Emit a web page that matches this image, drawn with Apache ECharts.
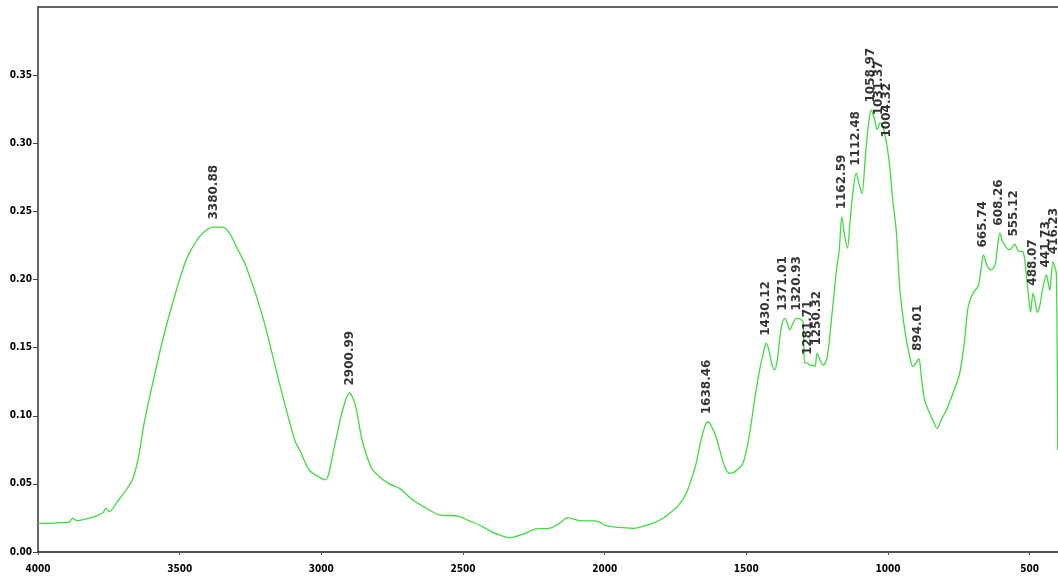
<!DOCTYPE html>
<html>
<head>
<meta charset="utf-8">
<script src="https://cdn.jsdelivr.net/npm/echarts@6/dist/echarts.min.js"></script>
<style>
html,body{margin:0;padding:0;background:#fff;}
#chart{width:1058px;height:583px;}
</style>
</head>
<body>
<div id="chart"></div>
<script>
// Wavenumber (cm-1) and absorbance
const wavenumbers = [4000,3960,3920,3890,3878,3862,3848,3800,3770,3760,3748,3720,3689,3665,3645,3625,3595,3560,3525,3477,3430,3400,3383,3348,3324,3295,3265,3207,3148,3094,3077,3042,3000,2985,2953,2925,2901,2880,2856,2823,2795,2760,2724,2677,2620,2583,2518,2480,2442,2400,2371,2335,2290,2242,2195,2160,2130,2089,2030,1994,1950,1900,1841,1800,1771,1740,1712,1690,1677,1660,1645,1636,1625,1607,1590,1575,1560,1540,1512,1490,1470,1453,1440,1430,1420,1410,1400,1390,1378,1365,1355,1347,1335,1323,1310,1300,1294,1285,1276,1265,1258,1250,1240,1229,1217,1207,1200,1190,1182,1172,1163,1153,1143,1135,1125,1112,1102,1092,1080,1070,1059,1048,1038,1028,1017,1010,1004,995,983,971,959,947,935,925,912,900,891,882,871,853,840,827,810,794,770,747,730,717,700,682,672,663,650,636,622,613,605,596,588,575,564,553,540,523,515,506,497,488,480,473,465,455,441,435,429,418,410,406,403,401];
const absorbance = [0.021,0.021,0.0215,0.022,0.0247,0.023,0.0235,0.026,0.029,0.032,0.0296,0.037,0.0455,0.054,0.070,0.095,0.124,0.1556,0.1826,0.2143,0.2314,0.2370,0.2385,0.2385,0.234,0.222,0.2094,0.1727,0.124,0.082,0.075,0.060,0.054,0.053,0.0785,0.104,0.1167,0.108,0.082,0.0617,0.0553,0.050,0.0467,0.0382,0.031,0.0272,0.0264,0.023,0.0198,0.015,0.0125,0.0105,0.013,0.0169,0.0174,0.021,0.0252,0.023,0.0228,0.0193,0.018,0.0174,0.0203,0.024,0.0284,0.034,0.0431,0.056,0.0651,0.082,0.093,0.0956,0.093,0.0846,0.072,0.062,0.0578,0.059,0.0651,0.085,0.113,0.1336,0.146,0.1532,0.148,0.138,0.1336,0.142,0.163,0.1715,0.168,0.163,0.168,0.1715,0.171,0.169,0.1385,0.139,0.137,0.137,0.136,0.146,0.141,0.137,0.141,0.155,0.170,0.190,0.207,0.222,0.246,0.232,0.223,0.240,0.262,0.278,0.270,0.263,0.290,0.312,0.3244,0.318,0.310,0.315,0.312,0.305,0.2987,0.285,0.258,0.236,0.195,0.172,0.1556,0.145,0.136,0.139,0.142,0.128,0.1116,0.1018,0.096,0.0908,0.098,0.104,0.117,0.131,0.155,0.180,0.190,0.195,0.207,0.218,0.210,0.207,0.2107,0.225,0.234,0.228,0.2253,0.222,0.223,0.226,0.221,0.220,0.210,0.192,0.176,0.190,0.183,0.176,0.180,0.192,0.2033,0.198,0.192,0.213,0.208,0.205,0.15,0.075];

// Peak annotations
const peakWn = [3380.88,2900.99,1638.46,1430.12,1371.01,1320.93,1281.71,1250.32,1162.59,1112.48,1058.97,1031.37,1004.32,894.01,665.74,608.26,555.12,488.07,441.73,416.23];
const peakAbs = [0.2385,0.1167,0.0956,0.1532,0.1715,0.1715,0.139,0.146,0.246,0.278,0.3244,0.315,0.2987,0.142,0.218,0.234,0.226,0.190,0.2033,0.213];
const peakLabels = ["3380.88","2900.99","1638.46","1430.12","1371.01","1320.93","1281.71","1250.32","1162.59","1112.48","1058.97","1031.37","1004.32","894.01","665.74","608.26","555.12","488.07","441.73","416.23"];

const xTicks = [4000,3500,3000,2500,2000,1500,1000,500];
const yTicks = [0,0.05,0.10,0.15,0.20,0.25,0.30,0.35];

const spectrum = wavenumbers.map((w,i)=>[w, absorbance[i]]);
const peaks = peakWn.map((w,i)=>({value:[w, peakAbs[i]], name: peakLabels[i]}));

const axisFont = '"DejaVu Sans Condensed","Liberation Sans Narrow","DejaVu Sans",sans-serif';

const chart = echarts.init(document.getElementById('chart'), null, {renderer:'canvas'});
chart.setOption({
  animation:false,
  backgroundColor:'#ffffff',
  grid:{left:38, right:0, top:7, bottom:31, containLabel:false},
  xAxis:[{
    type:'value', inverse:true, min:400, max:4000,
    axisLine:{show:true, lineStyle:{color:'#1a1a1a', width:1.6}},
    axisTick:{show:true, customValues:xTicks, length:3, inside:false, lineStyle:{color:'#555'}},
    axisLabel:{show:true, customValues:xTicks, margin:12, color:'#000', fontWeight:'bold', fontSize:10, fontFamily:axisFont,
      formatter:v=>String(v)},
    splitLine:{show:false}
  },{
    type:'value', inverse:true, min:400, max:4000, position:'top',
    axisLine:{show:true, onZero:false, lineStyle:{color:'#333', width:1.5}},
    axisTick:{show:false}, axisLabel:{show:false}, splitLine:{show:false}
  }],
  yAxis:{
    type:'value', min:0, max:0.40,
    axisLine:{show:true, lineStyle:{color:'#333', width:1.5}},
    axisTick:{show:true, customValues:yTicks, length:5, lineStyle:{color:'#444'}},
    axisLabel:{show:true, customValues:yTicks, margin:6, color:'#000', fontWeight:'bold', fontSize:10, fontFamily:axisFont,
      formatter:v=>v.toFixed(2)},
    splitLine:{show:false}
  },
  series:[{
    type:'line', data:spectrum, showSymbol:false, smooth:0.3,
    lineStyle:{color:'#3fdc3f', width:1.3},
    z:2
  },{
    type:'scatter', data:peaks, symbolSize:1,
    itemStyle:{color:'rgba(0,0,0,0)'},
    label:{show:true, position:'top', distance:7, rotate:90, align:'left', verticalAlign:'middle',
      formatter:p=>p.name, color:'#000', fontWeight:'bold', fontSize:12, fontFamily:'"DejaVu Sans",sans-serif'},
    z:3
  }]
});
</script>
</body>
</html>
